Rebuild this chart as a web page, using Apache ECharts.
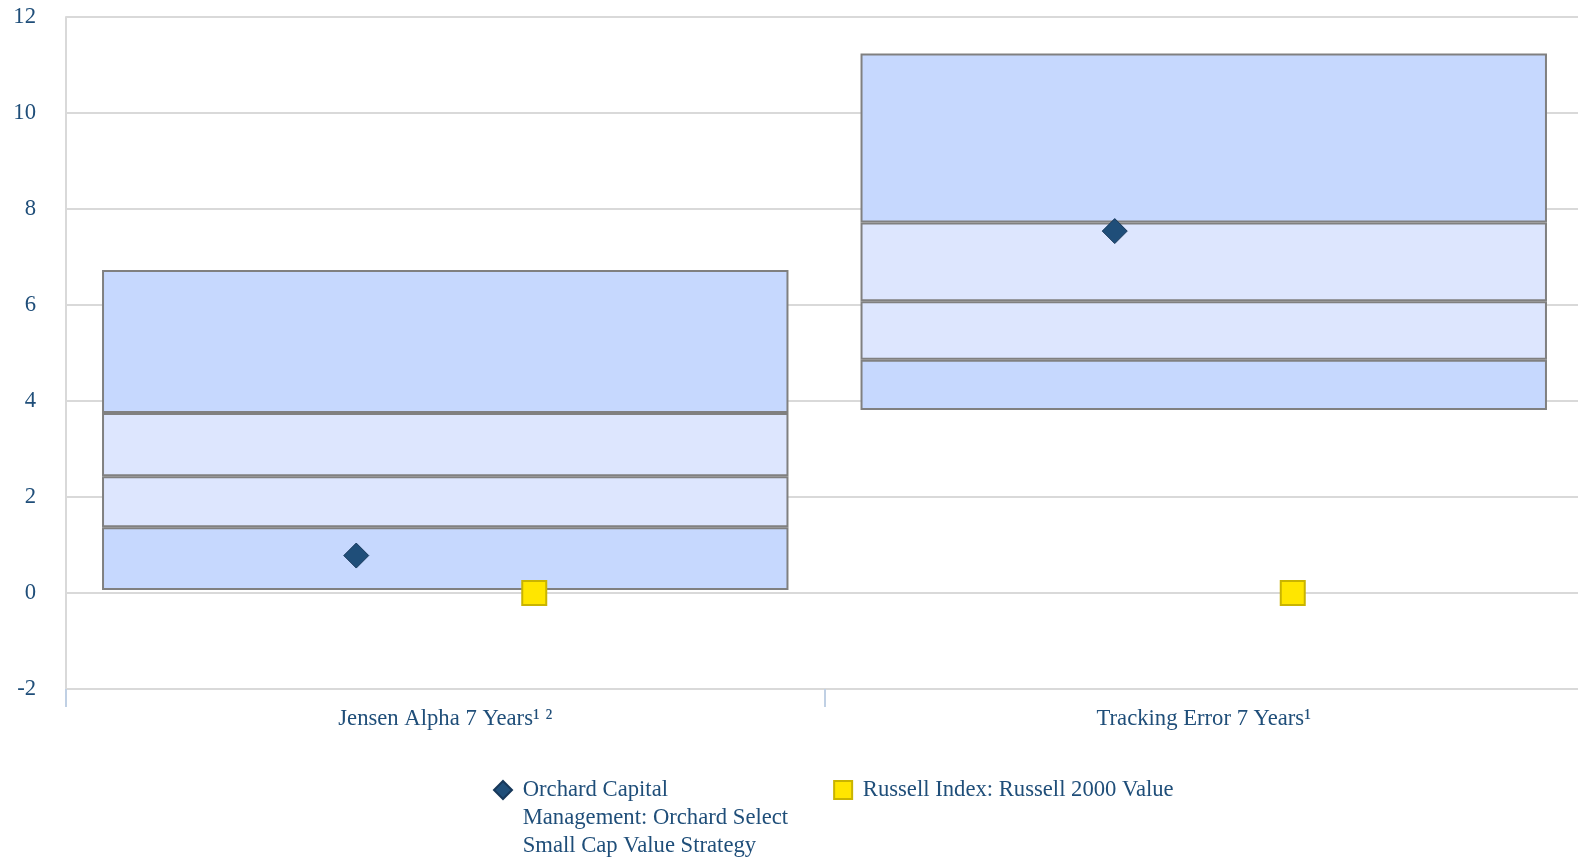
<!DOCTYPE html>
<html>
<head>
<meta charset="utf-8">
<script src="https://cdn.jsdelivr.net/npm/echarts@6/dist/echarts.min.js"></script>
<style>
  html, body { margin: 0; padding: 0; background: #fff; }
  #main { width: 1578px; height: 859px; }
</style>
</head>
<body>
<div id="main"></div>
<script>
// chart data
const categories = ["Jensen Alpha 7 Years\u00b9 \u00b2", "Tracking Error 7 Years\u00b9"];
const p05 = [0.06, 3.81];
const p25 = [1.37, 4.86];
const p50 = [2.43, 6.08];
const p75 = [3.75, 7.72];
const p95 = [6.73, 11.24];
const orchard = [0.78, 7.54];
const russell = [0.0, 0.0];
const yTicks = [-2, 0, 2, 4, 6, 8, 10, 12];

const orchardName = "Orchard Capital\nManagement: Orchard Select\nSmall Cap Value Strategy";
const russellName = "Russell Index: Russell 2000 Value";

const textColor = "#1f4e79";
const fontFamily = "'Liberation Serif', 'Times New Roman', serif";
const fontSize = 22.67;
const outerColor = "#c6d8fe";
const innerColor = "#dde6fe";
const edgeColor = "#808080";

var myChart = echarts.init(document.getElementById("main"));

// differences between percentile lines, drawn as a stack on an invisible base
function diff(a, b) {
  return a.map((v, i) => +(v - b[i]).toFixed(3));
}

function band(name, data, color) {
  return {
    name: name,
    type: "bar",
    stack: "box",
    barWidth: "90.5%",
    data: data,
    silent: true,
    itemStyle: { color: color, borderColor: edgeColor, borderWidth: 2 },
  };
}

// legend text: a little extra room after the icon, and the first line of the
// wrapped name kept level with its icon (blank lines above it)
function legendText(name) {
  const lines = name.split("\n").map((l) => " " + l);
  const pad = lines.length > 1 ? "\n".repeat(lines.length - 1) : "";
  return pad + lines.join("\n");
}

var option = {
  animation: false,
  textStyle: { fontFamily: fontFamily },
  grid: { left: 66, width: 1517, top: 17, bottom: 170, outerBoundsMode: "none" },
  legend: {
    left: 488,
    top: 715,
    itemWidth: 18,
    itemHeight: 18,
    itemGap: 45,
    selectedMode: false,
    formatter: legendText,
    textStyle: { color: textColor, fontSize: fontSize, fontFamily: fontFamily, lineHeight: 28 },
    data: [
      { name: orchardName, icon: "diamond" },
      { name: russellName, icon: "rect" },
    ],
  },
  xAxis: {
    type: "category",
    data: categories,
    axisLine: { onZero: false, lineStyle: { color: "#d9d9d9", width: 2 } },
    axisTick: { show: true, length: 18, lineStyle: { color: "#c0d0e4", width: 2 } },
    axisLabel: { color: textColor, fontSize: fontSize, margin: 19, fontFamily: fontFamily },
  },
  yAxis: {
    type: "value",
    min: yTicks[0],
    max: yTicks[yTicks.length - 1],
    interval: 2,
    axisLine: { show: true, lineStyle: { color: "#d9d9d9", width: 2 } },
    axisTick: { show: false },
    splitLine: { lineStyle: { color: "#d9d9d9", width: 2 } },
    axisLabel: { color: textColor, fontSize: fontSize, margin: 30, fontFamily: fontFamily },
  },
  series: [
    {
      name: "base",
      type: "bar",
      stack: "box",
      barWidth: "90.5%",
      data: p05,
      silent: true,
      itemStyle: { color: "transparent" },
    },
    band("5-25", diff(p25, p05), outerColor),
    band("25-50", diff(p50, p25), innerColor),
    band("50-75", diff(p75, p50), innerColor),
    band("75-95", diff(p95, p75), outerColor),
    {
      name: orchardName,
      type: "scatter",
      data: orchard,
      symbol: "diamond",
      symbolSize: 25,
      symbolOffset: [-89, 0],
      z: 5,
      itemStyle: { color: "#1f4e79", borderColor: "#17385a", borderWidth: 1, opacity: 1 },
    },
    {
      name: russellName,
      type: "scatter",
      data: russell,
      symbol: "rect",
      symbolSize: 24,
      symbolOffset: [89, 0],
      z: 5,
      itemStyle: { color: "#ffe600", borderColor: "#c9b400", borderWidth: 2, opacity: 1 },
    },
  ],
};

myChart.setOption(option);

window.onresize = function () {
  myChart.resize();
};
</script>
</body>
</html>
